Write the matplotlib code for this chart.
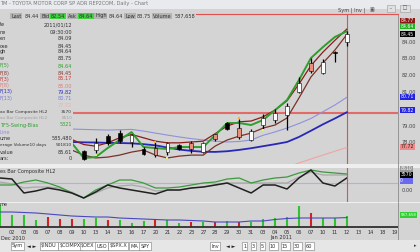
import matplotlib.pyplot as plt
import matplotlib.transforms as mtransforms
from matplotlib.patches import Rectangle
from matplotlib.lines import Line2D

W, H = 420, 252
BG = '#d4d4d4'
FS = 3.6

# ---- data (bar 0 = Dec 01 2010, bar 29 = Jan 12 2011) ----
date_labels = ['02', '03', '06', '07', '08', '09', '10', '13', '14', '15', '16', '17', '20', '21',
               '22', '23', '27', '28', '29', '30', '31', '03', '04', '05', '06', '07', '10', '11',
               '12', '13', '14', '18', '19']

# candles visible right of the data window (bars 7..29)
candle_bars = list(range(7, 30))
opens = [77.50, 77.57, 78.40, 78.60, 78.05, 77.65, 77.70, 77.45, 77.90, 78.00, 77.45, 78.50,
         79.20, 78.90, 78.15, 79.05, 79.35, 79.65, 81.00, 82.75, 82.15, 83.40, 84.00]
highs = [77.60, 78.29, 78.52, 78.76, 78.50, 77.75, 78.10, 78.05, 77.95, 78.10, 78.05, 78.55,
         79.25, 79.40, 78.85, 79.70, 80.00, 80.35, 81.90, 83.05, 83.00, 83.45, 84.64]
lows = [76.95, 77.39, 77.87, 77.99, 77.75, 77.25, 77.15, 77.30, 77.60, 77.40, 77.40, 78.10,
        78.75, 78.20, 78.10, 78.85, 79.20, 78.76, 80.95, 82.15, 82.10, 82.80, 83.75]
closes = [77.05, 77.99, 78.00, 78.10, 78.44, 77.35, 77.30, 78.00, 77.65, 77.65, 77.99, 78.20,
          78.80, 78.35, 78.70, 79.50, 79.80, 80.20, 81.55, 82.25, 82.80, 83.35, 84.45]
candle_kind = ['k', 'w', 'k', 'k', 'w', 'k', 's', 'w', 'k', 's', 'w', 's',
               'k', 's', 'w', 'w', 'w', 'w', 'w', 's', 'w', 'k', 'w']

# price studies (bars 6..29)
line_bars = list(range(6, 30))
green_line = [77.99, 77.10, 77.15, 77.69, 78.17, 78.64, 77.75, 77.69, 77.63, 77.75, 77.75, 77.75,
              78.46, 79.18, 79.18, 79.06, 79.36, 79.95, 80.55, 81.74, 83.05, 83.70, 84.30, 84.64]
upper_line = [78.20, 77.90, 77.80, 78.00, 78.30, 78.50, 78.30, 78.10, 78.00, 78.00, 78.05, 78.10,
              78.55, 79.00, 79.25, 79.30, 79.55, 79.95, 80.50, 81.50, 82.60, 83.40, 84.10, 84.77]
lower_line = [77.57, 77.27, 77.10, 77.15, 77.27, 77.45, 77.57, 77.27, 77.10, 77.21, 77.27, 77.27,
              77.81, 78.17, 78.40, 78.58, 78.88, 79.06, 79.48, 80.67, 81.92, 82.75, 83.52, 84.45]
lavender_line = [78.82, 78.80, 78.78, 78.76, 78.78, 78.80, 78.70, 78.58, 78.46, 78.35, 78.25, 78.17,
                 78.10, 78.05, 78.08, 78.17, 78.45, 78.65, 78.88, 79.15, 79.45, 79.85, 80.25, 80.71]
blue_line = [78.05, 78.03, 78.02, 78.00, 77.99, 77.97, 77.92, 77.85, 77.72, 77.60, 77.52, 77.47,
             77.46, 77.50, 77.58, 77.68, 77.80, 77.92, 78.05, 78.35, 78.72, 79.10, 79.45, 79.82]
pink_bars = [24, 25, 26, 27, 28, 29]
pink_line = [76.55, 76.80, 77.04, 77.27, 77.50, 77.72]
h_level = 79.80

orange_bars = [13, 20]
orange_vals = [78.05, 79.48]
yellow_bars = [8, 14, 22]
yellow_vals = [77.27, 77.10, 78.76]

# oscillator (bars 0..29)
osc_black = [70.6, 67.6, 26.5, 32.4, 41.2, 35.3, 26.5, 11.8, 29.4, 50.0, 41.2, 35.3, 29.4, 23.5, 35.3,
             35.3, 41.2, 44.1, 50.0, 55.9, 41.2, 26.5, 50.0, 50.0, 38.2, 70.6, 94.0, 55.9, 47.0, 70.6]
osc_green = [50.0, 50.0, 58.8, 64.7, 55.9, 44.0, 26.5, 11.8, 35.3, 50.0, 64.7, 64.7, 55.9, 41.2, 41.2,
             44.0, 50.0, 55.9, 58.8, 67.6, 70.6, 55.9, 64.7, 70.6, 73.5, 85.3, 94.0, 88.2, 85.3, 82.4]
osc_gray = [58.8, 53.0, 41.2, 44.0, 44.0, 41.2, 29.4, 11.8, 26.5, 41.2, 47.0, 50.0, 44.0, 32.4, 35.3,
            35.3, 41.2, 44.0, 50.0, 55.9, 55.9, 55.9, 55.9, 55.9, 55.9, 73.5, 88.2, 79.4, 79.4, 79.4]
osc_level = 55.9

# volume (bars 0..29)
volume = [1175000, 640000, 640000, 374000, 534000, 427000, 427000, 427000, 480000, 374000,
          374000, 214000, 320000, 374000, 374000, 214000, 267000, 267000, 267000, 320000,
          267000, 267000, 427000, 480000, 534000, 1121000, 748000, 480000, 480000, 587658]
vol_up = ['g', 'g', 'g', 'g', 'r', 'r', 'r', 'g', 'g', 'r', 'g', 'g', 'g', 'r', 'g',
          'g', 'r', 'g', 'r', 'g', 'r', 'g', 'g', 'g', 'g', 'g', 'r', 'g', 'g', 'g']
vol_avg = [801000, 801000, 774300, 747600, 694200, 640800, 587400, 560700, 534000, 534000,
           480600, 453900, 427200, 400500, 373800, 373800, 347100, 320400, 267000, 267000,
           267000, 320400, 320400, 400500, 453900, 480600, 480600, 480600, 480600, 501810]


def px_rect(x, y, w, h):
    return [x / W, 1 - (y + h) / H, w / W, h / H]


def ftext(x, y, s, **kw):
    kw.setdefault('fontsize', FS)
    kw.setdefault('color', '#303030')
    kw.setdefault('va', 'center')
    kw.setdefault('zorder', 6)
    return fig.text(x / W, 1 - y / H, s, **kw)


def clean(a):
    a.set_facecolor(BG)
    a.set_xticks([])
    a.set_yticks([])
    for s in a.spines.values():
        s.set_visible(False)


fig = plt.figure(figsize=(4.2, 2.52), dpi=100, facecolor=BG)

# ---- price panel ----
ax = fig.add_axes(px_rect(0, 14, 398, 150))
clean(ax)
ax.set_xlim(0, 33.28)
ax.set_ylim(76.74, 85.67)

ax.axhline(h_level, color='#e46a6a', lw=1.5, zorder=1)
ax.plot(pink_bars, pink_line, color='#f2a4a4', lw=0.8, zorder=2)
ax.plot(line_bars, lavender_line, color='#9090dc', lw=0.8, zorder=2)
ax.plot(line_bars, blue_line, color='#2828b8', lw=1.3, zorder=2)
ax.plot(line_bars, lower_line, color='#7a3028', lw=0.9, zorder=2)
ax.plot(line_bars, upper_line, color='#8c1c1c', lw=0.9, zorder=2)
ax.plot(line_bars, green_line, color='#2e9e2e', lw=1.4, zorder=2)

body_col = {'w': 'white', 'k': 'black', 's': '#e8907e'}
for b, o, hi, lo, c, k in zip(candle_bars, opens, highs, lows, closes, candle_kind):
    ax.vlines(b, lo, hi, color='black', lw=0.9, zorder=3)
    ax.bar(b, abs(c - o), bottom=min(o, c), width=0.32, color=body_col[k],
           edgecolor='black', lw=0.4, zorder=4)
ax.plot(orange_bars, orange_vals, 's', color='#f8b030', ms=2.0, mew=0, zorder=5)
ax.plot(yellow_bars, yellow_vals, 's', color='#e4f070', ms=2.0, mew=0, zorder=5)
ax.axvline(29, color='#e05050', lw=0.8, zorder=1)

# ---- oscillator panel ----
ax2 = fig.add_axes(px_rect(0, 168, 398, 34))
clean(ax2)
ax2.set_xlim(0, 33.28)
ax2.set_ylim(0, 100)
ax2.axhline(osc_level, color='#b0b0e4', lw=0.8)
bars30 = list(range(30))
ax2.plot(bars30, osc_gray, color='#a8a8a8', lw=0.9)
ax2.plot(bars30, osc_green, color='#3c9a3c', lw=0.9)
ax2.plot(bars30, osc_black, color='#202020', lw=1.1)
ax2.axvline(29, color='#e05050', lw=0.8)

# ---- volume panel ----
ax3 = fig.add_axes(px_rect(0, 203, 398, 25))
clean(ax3)
ax3.set_xlim(0, 33.28)
ax3.set_ylim(-53400, 24 * 53400)
vcol = {'g': '#2ec42e', 'r': '#d42020'}
ax3.vlines(bars30, 0, volume, colors=[vcol[v] for v in vol_up], lw=1.5)
ax3.plot(bars30, vol_avg, color='#4848c0', lw=0.8)
ax3.axhline(0, color='#303030', lw=1.3)

# date axis
tr = mtransforms.blended_transform_factory(ax3.transData, fig.transFigure)
for k, lab in enumerate(date_labels):
    ax3.text(k + 1, 1 - 232 / H, lab, transform=tr, fontsize=FS, color='#303030',
             ha='center', va='center', clip_on=False)
ftext(1, 238, 'Dec 2010')
ax3.text(23.5, 1 - 238 / H, 'Jan 2011', transform=tr, fontsize=FS, color='#303030',
         ha='center', va='center', clip_on=False)

# separators / frames
fig.add_artist(Rectangle((0, 1 - 168 / H), 1, 4 / H, transform=fig.transFigure,
                         facecolor='#eeeeee', edgecolor='none', zorder=4))
fig.add_artist(Rectangle((0, 1 - 203 / H), 1, 1.2 / H, transform=fig.transFigure,
                         facecolor='#f0f0f0', edgecolor='none', zorder=4))
fig.add_artist(Line2D([398 / W, 398 / W], [1 - 240 / H, 1 - 14 / H], transform=fig.transFigure,
                      color='#8a8a8a', lw=0.6, zorder=4))
fig.add_artist(Line2D([196 / W, 398 / W], [1 - 14 / H, 1 - 14 / H], transform=fig.transFigure,
                      color='#e05050', lw=0.8, zorder=4))

# title bar
fig.add_artist(Rectangle((0, 1 - 9 / H), 1, 9 / H, transform=fig.transFigure,
                         facecolor='#e8eaee', edgecolor='none', zorder=4))
ftext(0, 4, 'TM - TOYOTA MOTOR CORP SP ADR REP2COM, Daily - Chart', color='#777777')
ftext(338, 10, 'Sym | Inv |', color='#404040')
ftext(370, 10, '\u25a3', color='#505050')
ftext(388, 8, ' \u2013 ', color='#505050', bbox=dict(boxstyle='square,pad=0.2', fc='#e0e0e0', ec='#9a9a9a', lw=0.4))
ftext(401, 8, ' \u25a1 ', color='#505050', bbox=dict(boxstyle='square,pad=0.2', fc='#e0e0e0', ec='#9a9a9a', lw=0.4))

# info row
lab_box = dict(boxstyle='square,pad=0.15', fc='#b4b4b4', ec='none')
grn_box = dict(boxstyle='square,pad=0.15', fc='#40d040', ec='none')
ftext(11, 16, 'Last', bbox=lab_box)
ftext(25, 16, '84.44')
ftext(41, 16, 'Bid', bbox=lab_box)
ftext(51, 16, '82.54', bbox=grn_box)
ftext(68, 16, 'Ask', bbox=lab_box)
ftext(79, 16, '84.64', bbox=grn_box)
ftext(95, 16, 'High', bbox=lab_box)
ftext(109, 16, '84.64')
ftext(125, 16, 'Low', bbox=lab_box)
ftext(137, 16, '83.75')
ftext(153, 16, 'Volume', bbox=lab_box)
ftext(175, 16, '587,658')

# data window on the left
fig.add_artist(Rectangle((0, 1 - 163 / H), 73 / W, 143 / H, transform=fig.transFigure,
                         facecolor=BG, edgecolor='none', zorder=5))
rows = [(25, 'te', '2011/01/12', '#303030'), (32, 'ne', '09:30:00', '#303030'),
        (39, 'en', '84.09', '#303030'), (46, 'ose', '84.45', '#303030'),
        (52, 'gh', '84.64', '#303030'), (58, 'w', '83.75', '#303030'),
        (66, 'F(5)', '84.64', '#30a030'), (73, 'F(8)', '84.45', '#8c3a30'),
        (79, 'F(3)', '85.17', '#c83c3c'), (86, 'F(8)', '85.00', '#e07c7c'),
        (92, 'F(13)', '79.82', '#3030c0'), (99, 'F(13)', '80.71', '#7c7cd4'),
        (105, '', '77.72', '#eab0b0'), (112, 'ax Bar Composite HL2', '3570', '#303030'),
        (118, 'ax Bar Composite HL2', '8510', '#a0a0a0'), (125, 'TF5-Swing-Bias', '5321', '#30a030'),
        (132, 'Line', '', '#8c8cd8'), (138, 'ume', '585,480', '#303030'),
        (145, 'erage Volume10 days', '501810', '#303030'), (152, 'value', '85.61', '#303030'),
        (158, 'ars:', '0', '#303030')]
for y, lab, val, col in rows:
    fs = 3.1 if len(lab) > 16 else FS
    ftext(0, y, lab, color=col, fontsize=fs)
    ftext(72, y, val, color=col, ha='right', fontsize=fs)

# panel titles
ftext(0, 171, 'es Bar Composite HL2')
ftext(0, 205, 'me')

# right axis labels
for p in [84.0, 83.0, 82.0, 81.0, 79.0, 78.0]:
    ftext(402, 42 + (84 - p) * 16.8, f'{p:.2f}', color='#404040')


def tag(y, s, fc, tc='white', fs=3.3):
    ftext(400.5, y, s, color=tc, fontsize=fs,
          bbox=dict(boxstyle='square,pad=0.2', fc=fc, ec='none'))


tag(21, '84.77', '#8c1818')
tag(26, '84.64', '#26b026')
tag(34, '84.45', 'black')
tag(97, '80.71', '#2424e0')
tag(110, '79.82', '#2424e0')
tag(147, '77.72', '#f08a8a', '#202020')
tag(169, '8510', '#9a9a9a')
tag(175, '3570', 'black')
tag(181, '0      ', '#6a6af0')
ftext(402, 190, '0.00', color='#404040')
tag(215, '587,658', '#30d030', fs=2.8)

# bottom tab bar
fig.add_artist(Rectangle((0, 0), 1, 12 / H, transform=fig.transFigure,
                         facecolor='#e6e6e6', edgecolor='none', zorder=4))
tab_box = dict(boxstyle='square,pad=0.25', fc='white', ec='#7a7a7a', lw=0.4)
ftext(12, 246, 'Sym', bbox=tab_box)
ftext(27, 246, '\u25c4 \u25ba', color='#202020')
x = 41
for t in ['$INDU', '$COMPX', '$OEX', 'USO', '$SPX.X', 'MA', 'SPY']:
    ftext(x, 246, t, bbox=tab_box)
    x += 4 + len(t) * 2.9
ftext(211, 246, 'Inv', bbox=tab_box)
ftext(226, 246, '\u25c4 \u25ba', color='#202020')
x = 243
for t in ['1', '3', '5', '10', '15', '30', '60']:
    ftext(x, 246, t, bbox=tab_box)
    x += 6 + len(t) * 3
ftext(414, 246, '\u25b8', color='#404040')

fig.savefig('out.png', dpi=100, facecolor=BG)
